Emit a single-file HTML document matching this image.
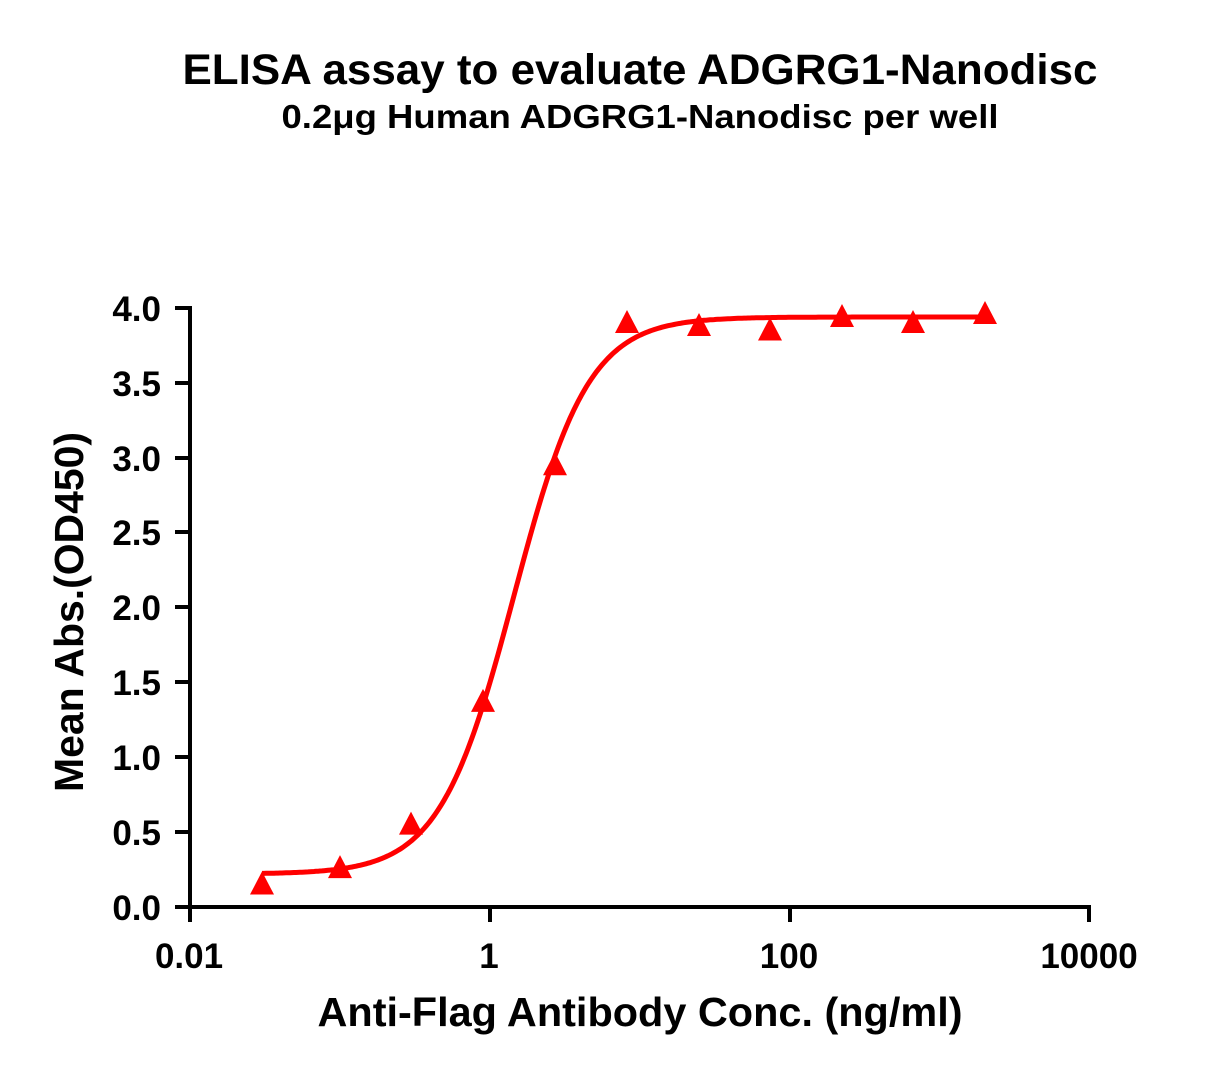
<!DOCTYPE html>
<html><head><meta charset="utf-8"><style>body{margin:0;background:#fff}svg{display:block}text{font-family:"Liberation Sans",sans-serif;font-weight:bold;fill:#000}</style></head>
<body>
<svg id="s" width="1217" height="1075" viewBox="0 0 1217 1075" xmlns="http://www.w3.org/2000/svg">
<text x="640" y="84" font-size="43" text-anchor="middle" textLength="915" lengthAdjust="spacingAndGlyphs">ELISA assay to evaluate ADGRG1-Nanodisc</text>
<text x="640" y="128" font-size="33" text-anchor="middle" textLength="717" lengthAdjust="spacingAndGlyphs">0.2μg Human ADGRG1-Nanodisc per well</text>
<g stroke="#000" stroke-width="4" fill="none">
<line x1="190" y1="306" x2="190" y2="909"/>
<line x1="188" y1="907" x2="1091" y2="907"/>
<line x1="175" y1="308" x2="190" y2="308"/><line x1="175" y1="383" x2="190" y2="383"/>
<line x1="175" y1="458" x2="190" y2="458"/><line x1="175" y1="532" x2="190" y2="532"/>
<line x1="175" y1="607" x2="190" y2="607"/><line x1="175" y1="682" x2="190" y2="682"/>
<line x1="175" y1="757" x2="190" y2="757"/><line x1="175" y1="832" x2="190" y2="832"/>
<line x1="175" y1="907" x2="190" y2="907"/>
<line x1="190" y1="907" x2="190" y2="922"/><line x1="490" y1="907" x2="490" y2="922"/>
<line x1="790" y1="907" x2="790" y2="922"/><line x1="1089" y1="907" x2="1089" y2="922"/>
</g>
<g font-size="35" text-anchor="end">
<text x="161" y="321">4.0</text><text x="161" y="396">3.5</text><text x="161" y="471">3.0</text>
<text x="161" y="545">2.5</text><text x="161" y="620">2.0</text><text x="161" y="695">1.5</text>
<text x="161" y="770">1.0</text><text x="161" y="845">0.5</text><text x="161" y="920">0.0</text>
</g>
<g font-size="35" text-anchor="middle">
<text x="189" y="968">0.01</text><text x="489" y="968">1</text><text x="789" y="968">100</text><text x="1089" y="968">10000</text>
</g>
<text x="640" y="1026" font-size="41" text-anchor="middle" textLength="645" lengthAdjust="spacingAndGlyphs">Anti-Flag Antibody Conc. (ng/ml)</text>
<text transform="translate(83,612) rotate(-90)" font-size="41" text-anchor="middle" textLength="360" lengthAdjust="spacingAndGlyphs">Mean Abs.(OD450)</text>
<path id="c" fill="none" stroke="#f00" stroke-width="5"/>
<g id="pts" fill="#f00"></g>
</svg>
<script>
function Y(v){return 907-v*149.75}
var B=0.22,T=3.94,h=1.75,ec=0.16,d="";
for(var p=262;p<=985;p+=2){var lx=(p-490)/150;var v=B+(T-B)/(1+Math.pow(10,(ec-lx)*h));d+=(p==262?"M":"L")+p+","+Y(v).toFixed(1);}
document.getElementById("c").setAttribute("d",d);
var xs=[262,340,411,483,555,627,699,770,842,913,985],ys=[0.15,0.26,0.55,1.37,2.95,3.9,3.88,3.85,3.94,3.9,3.96],g="";
for(var i=0;i<xs.length;i++){var y=Y(ys[i]);g+='<polygon points="'+(xs[i]-12)+','+(y+10)+' '+(xs[i]+12)+','+(y+10)+' '+xs[i]+','+(y-13)+'"/>';}
document.getElementById("pts").innerHTML=g;
</script>
</body></html>
